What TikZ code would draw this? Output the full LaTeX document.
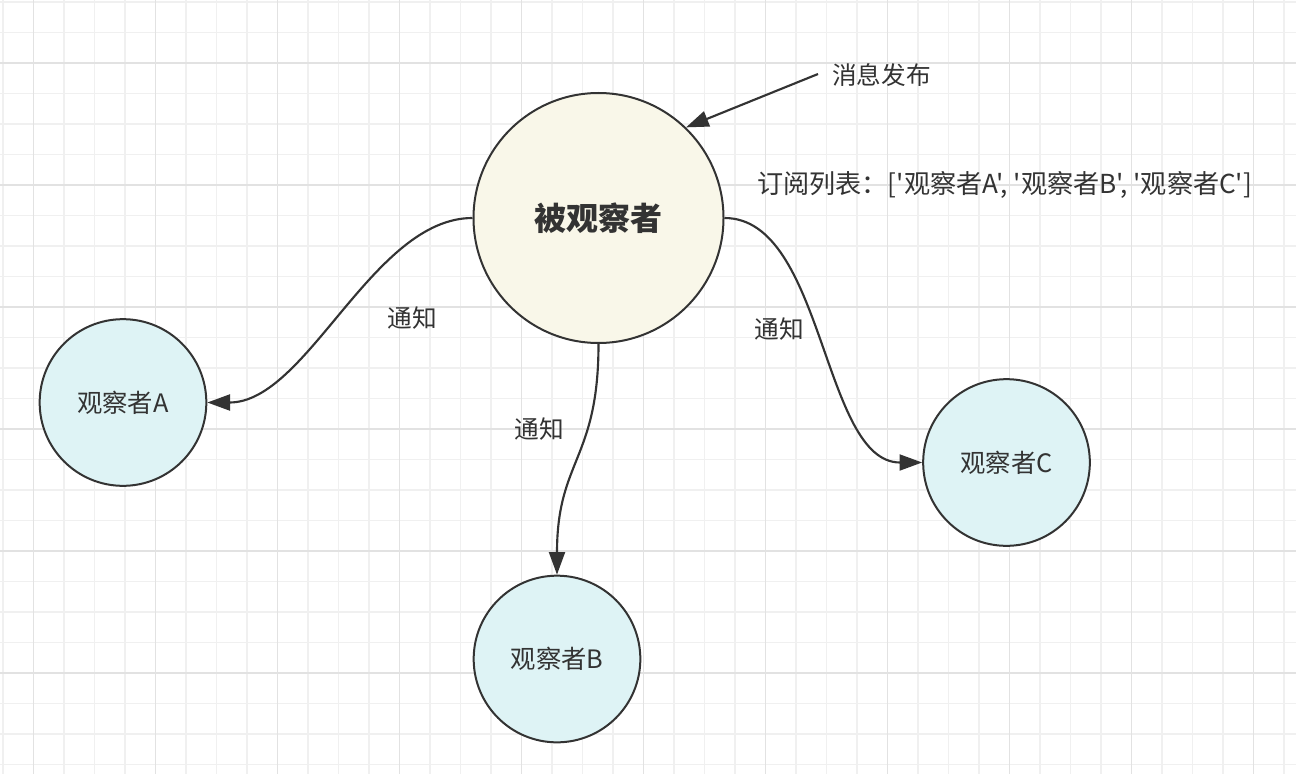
\documentclass[tikz,border=0pt]{standalone}
\usepackage{fontspec}
\newfontfamily\cjk{Noto Sans CJK SC}
\usetikzlibrary{arrows.meta}
\definecolor{gridminor}{RGB}{240,240,240}
\definecolor{gridmajor}{RGB}{226,226,226}
\definecolor{ink}{RGB}{51,51,51}
\definecolor{subjfill}{RGB}{249,247,233}
\definecolor{obsfill}{RGB}{222,243,245}
\tikzset{
  minorline/.style={draw=gridminor, line width=1.1pt},
  majorline/.style={draw=gridmajor, line width=1.4pt},
  subject/.style={circle, draw=ink, line width=1.5pt, fill=subjfill, minimum size=187.5pt, inner sep=0pt, text=ink, font=\cjk\fontsize{24}{28}\selectfont\bfseries},
  observer/.style={circle, draw=ink, line width=1.5pt, fill=obsfill, minimum size=125pt, inner sep=0pt, text=ink, font=\cjk\fontsize{19}{22}\selectfont},
  edge/.style={draw=ink, line width=1.6pt, -{Triangle[length=17pt, width=12pt]}},
  lbl/.style={text=ink, inner sep=0pt, font=\cjk\fontsize{18.5}{22}\selectfont},
}
\begin{document}
\begin{tikzpicture}[x=0.75pt, y=-0.75pt]
\fill[white] (0,0) rectangle (1296,774);
\useasboundingbox (0,0) rectangle (1296,774);
% grid
\foreach \k in {0,...,42} { \draw[minorline] ({3+30.5*\k},0) -- ({3+30.5*\k},774); }
\foreach \k in {0,...,25} { \draw[minorline] (0,{2+30.5*\k}) -- (1296,{2+30.5*\k}); }
\foreach \k in {1,5,...,41} { \draw[majorline] ({3+30.5*\k},0) -- ({3+30.5*\k},774); }
\foreach \k in {2,6,...,22} { \draw[majorline] (0,{2+30.5*\k}) -- (1296,{2+30.5*\k}); }
% nodes
\node[subject] (main) at (598.5,218) {被观察者};
\node[observer] (A) at (123,402.5) {观察者A};
\node[observer] (B) at (557,659) {观察者B};
\node[observer] (C) at (1006.5,462.5) {观察者C};
% edges
\draw[edge] (main.west) .. controls +(-100,0) and +(100,0) .. (A.east);
\draw[edge] (main.south) .. controls +(0,116) and +(0,-115) .. (B.north);
\draw[edge] (main.east) .. controls +(100,0) and +(-100,0) .. (C.west);
\coordinate (pubstart) at (818,74);
\draw[edge] (pubstart) -- (main.46);
% labels
\node[lbl] (lA) at (412,318) {通知};
\node[lbl] (lB) at (539,429) {通知};
\node[lbl] (lC) at (779,329) {通知};
\node[lbl, anchor=west] (pub) at (832,75) {消息发布};
\node[lbl, anchor=west, font=\cjk\fontsize{19.6}{22}\selectfont] (subs) at (757,185) {订阅列表：['观察者A', '观察者B', '观察者C']};
\end{tikzpicture}
\end{document}
